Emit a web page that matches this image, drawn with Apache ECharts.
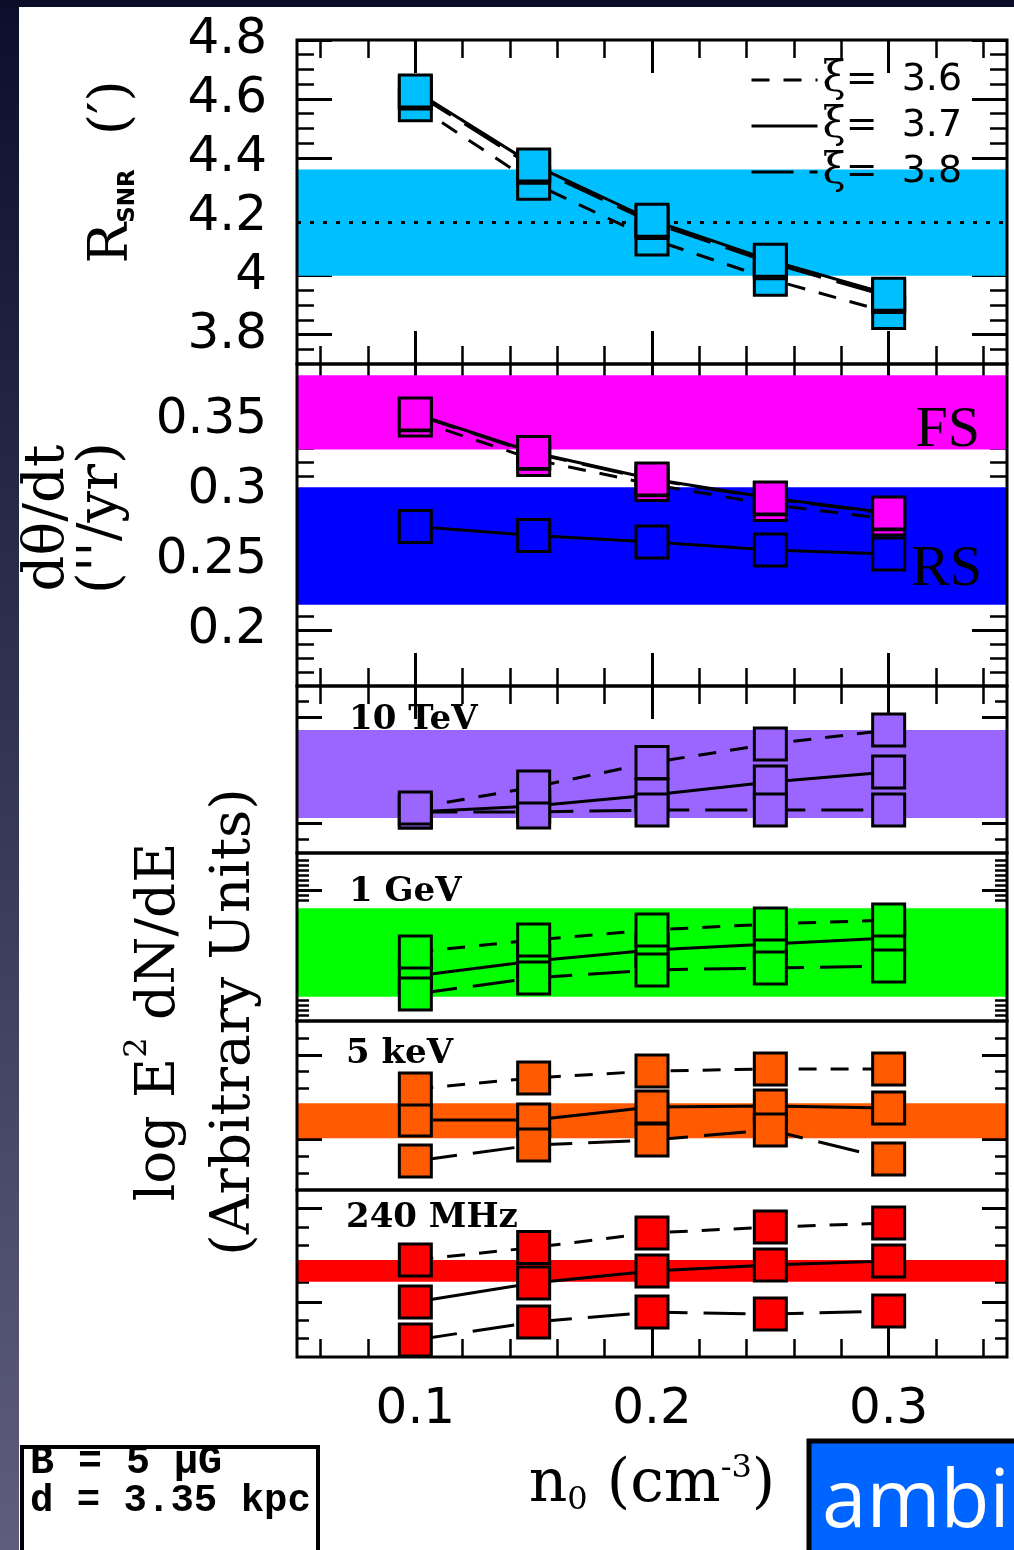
<!DOCTYPE html>
<html><head><meta charset="utf-8">
<script src="https://cdn.jsdelivr.net/npm/echarts@6/dist/echarts.min.js"></script>
<style>html,body{margin:0;padding:0;background:#fff;}#c{width:1014px;height:1550px;}</style>
</head><body><div id="c"></div>
<script>
// ================= DATA =================
const nH = [0.1, 0.15, 0.2, 0.25, 0.3];
const xiValues = ['3.6', '3.7', '3.8'];

// R_SNR (arcmin)
const rsnrXi36 = [4.58, 4.314, 4.124, 3.988, 3.875];
const rsnrXi37 = [4.627, 4.376, 4.188, 4.052, 3.937];
const rsnrXi38 = [4.62, 4.368, 4.18, 4.044, 3.929];
const rsnrBand = [4.0, 4.36];
const rsnrObs = 4.18;

// dtheta/dt (arcsec/yr)
const fsXi36 = [0.350, 0.3218, 0.304, 0.2896, 0.2793];
const fsXi37 = [0.3543, 0.3268, 0.3079, 0.2943, 0.2836];
const fsXi38 = [0.3538, 0.3262, 0.3074, 0.2938, 0.2831];
const rsAll = [0.2739, 0.2675, 0.2629, 0.2571, 0.2543];
const fsBand = [0.329, 0.382];
const rsBand = [0.218, 0.302];

// log E^2 dN/dE (arbitrary units, 0..100 in each panel)
const tevXi36 = [27.0, 39.5, 54.2, 65.3, 73.6];
const tevXi37 = [24.6, 28.1, 34.7, 42.5, 48.5];
const tevXi38 = [24.5, 24.6, 25.7, 25.7, 25.7];
const tevBand = [21.0, 73.7];

const gevXi36 = [41.1, 48.2, 54.2, 57.7, 60.1];
const gevXi37 = [26.8, 35.7, 42.3, 45.8, 49.4];
const gevXi38 = [16.1, 25.6, 30.4, 31.5, 32.7];
const gevBand = [14.5, 67.1];

const kevXi36 = [59.8, 66.3, 70.4, 71.6, 71.6];
const kevXi37 = [41.4, 41.4, 49.1, 49.7, 48.5];
const kevXi38 = [17.2, 26.6, 29.6, 35.5, 18.3];
const kevBand = [30.6, 51.3];

const mhzXi36 = [58.1, 65.6, 74.3, 77.8, 80.2];
const mhzXi37 = [32.9, 44.3, 51.5, 55.1, 57.5];
const mhzXi38 = [10.2, 21.0, 26.9, 25.7, 27.5];
const mhzBand = [45.1, 58.1];

// ticks
const xTickValues = [0.1, 0.2, 0.3];
const xTickLabels = ['0.1', '0.2', '0.3'];
const xMinorTicks = [0.06, 0.08, 0.12, 0.14, 0.16, 0.18, 0.22, 0.24, 0.26, 0.28, 0.32, 0.34];
const rsnrTickValues = [3.8, 4.0, 4.2, 4.4, 4.6, 4.8];
const rsnrTickLabels = ['3.8', '4', '4.2', '4.4', '4.6', '4.8'];
const rsnrMinorTicks = [3.75, 3.85, 3.9, 3.95, 4.05, 4.1, 4.15, 4.25, 4.3, 4.35, 4.45, 4.5, 4.55, 4.65, 4.7, 4.75];
const rateTickValues = [0.2, 0.25, 0.3, 0.35];
const rateTickLabels = ['0.2', '0.25', '0.3', '0.35'];
const rateMinorTicks = [0.17, 0.18, 0.19, 0.21, 0.22, 0.23, 0.24, 0.26, 0.27, 0.28, 0.29, 0.31, 0.32, 0.33, 0.34, 0.36, 0.37, 0.38];
const tevMajorTicks = [18, 81.4];
const tevMinorTicks = [8.4, 27, 36, 45, 54, 63, 72, 90.6];
const gevMajorTicks = [78];
const gevMinorTicks = [3.6, 6.5, 9.5, 12.5, 72, 75, 81, 83.9, 86.9, 89.9, 92.9, 95.8];
const kevMajorTicks = [30, 80];
const kevMinorTicks = [10, 20, 40, 50, 60, 70, 90];
const mhzMajorTicks = [32.9, 89.2];
const mhzMinorTicks = [11.4, 22.2, 44.9, 55.9, 67, 77.8];

// ================= LAYOUT / STYLE =================
const XMIN = 0.05, XMAX = 0.35;
const PLOT_LEFT = 297, PLOT_WIDTH = 710;
const C = {cyan:'#00bfff', magenta:'#ff00ff', blue:'#0000ff', purple:'#9a66ff', green:'#00ff00', orange:'#ff5a00', red:'#ff0000'};
const LINE_STYLE = {'3.6': [18, 14], '3.7': 'solid', '3.8': [42, 16]};

const panels = [
  {top:40, height:324, min:3.7, max:4.8, xTop:true, xBottom:true, major:rsnrTickValues, minor:rsnrMinorTicks, labels:rsnrTickLabels, majorLen:35, minorLen:17},
  {top:364, height:322, min:0.16, max:0.39, xTop:true, xBottom:true, major:rateTickValues, minor:rateMinorTicks, labels:rateTickLabels, majorLen:35, minorLen:17},
  {top:686, height:167, min:0, max:100, xTop:true, xBottom:false, major:tevMajorTicks, minor:tevMinorTicks, majorLen:25, minorLen:12},
  {top:853, height:168, min:0, max:100, xTop:false, xBottom:false, major:gevMajorTicks, minor:gevMinorTicks, majorLen:25, minorLen:12},
  {top:1021, height:169, min:0, max:100, xTop:false, xBottom:false, major:kevMajorTicks, minor:kevMinorTicks, majorLen:25, minorLen:12},
  {top:1190, height:167, min:0, max:100, xTop:false, xBottom:true, xLabels:true, major:mhzMajorTicks, minor:mhzMinorTicks, majorLen:25, minorLen:12}
];

const grids = [], xAxes = [], yAxes = [], series = [], mainX = [], mainY = [];

function addX(gi, pos, vals, len, w, extra) {
  xAxes.push(Object.assign({
    type:'value', gridIndex:gi, position:pos, min:XMIN, max:XMAX,
    axisLine:{show:false, onZero:false}, splitLine:{show:false},
    axisTick: vals ? {show:true, inside:true, length:len, customValues:vals, lineStyle:{color:'#000', width:w}} : {show:false},
    axisLabel:{show:false}
  }, extra || {}));
  return xAxes.length - 1;
}
function addY(gi, pos, p, vals, len, w, extra) {
  yAxes.push(Object.assign({
    type:'value', gridIndex:gi, position:pos, min:p.min, max:p.max,
    axisLine:{show:false, onZero:false}, splitLine:{show:false},
    axisTick:{show:true, inside:true, length:len, customValues:vals, lineStyle:{color:'#000', width:w}},
    axisLabel:{show:false}
  }, extra || {}));
  return yAxes.length - 1;
}
function pickLabel(values, labels) {
  return v => { const i = values.findIndex(t => Math.abs(t - v) < 1e-9); return i >= 0 ? labels[i] : ''; };
}

panels.forEach((p, gi) => {
  grids.push({left:PLOT_LEFT, top:p.top, width:PLOT_WIDTH, height:p.height, show:true,
    borderColor:'#000', borderWidth:3, backgroundColor:'transparent', z:20});
  let xExtra = {};
  if (p.xLabels) {
    xExtra = {
      axisLabel:{show:true, customValues:xTickValues, formatter:pickLabel(xTickValues, xTickLabels),
        fontFamily:'DejaVu Sans', fontSize:50, color:'#000', margin:28},
      name:'{n|n}{sub|0}{n| (cm}{sup|-3}{n|)}', nameLocation:'middle', nameGap:96,
      nameTextStyle:{color:'#000', fontFamily:'DejaVu Serif', fontSize:60, rich:{
        n:{fontFamily:'DejaVu Serif', fontSize:60, lineHeight:64, color:'#000'},
        sub:{fontFamily:'DejaVu Serif', fontSize:32, lineHeight:30, verticalAlign:'bottom', color:'#000'},
        sup:{fontFamily:'DejaVu Serif', fontSize:32, lineHeight:30, verticalAlign:'top', color:'#000'}}}
    };
  }
  mainX[gi] = addX(gi, 'bottom', p.xBottom ? xTickValues : null, 33, 3, xExtra);
  if (p.xBottom) addX(gi, 'bottom', xMinorTicks, 18, 2.5);
  if (p.xTop) { addX(gi, 'top', xTickValues, 33, 3); addX(gi, 'top', xMinorTicks, 18, 2.5); }
  const yExtra = p.labels ? {axisLabel:{show:true, customValues:p.major, formatter:pickLabel(p.major, p.labels),
    fontFamily:'DejaVu Sans', fontSize:50, color:'#000', margin:30}} : {};
  mainY[gi] = addY(gi, 'left', p, p.major, p.majorLen, 3, yExtra);
  addY(gi, 'left', p, p.minor, p.minorLen, 2.5);
  addY(gi, 'right', p, p.major, p.majorLen, 3);
  addY(gi, 'right', p, p.minor, p.minorLen, 2.5);
});

function pts(vals) { return nH.map((x, i) => [x, vals[i]]); }

function addBand(gi, ranges, colors, obs) {
  const s = {type:'line', name:'band' + gi, xAxisIndex:mainX[gi], yAxisIndex:mainY[gi], data:[], z:1, silent:true,
    markArea:{silent:true, z:1, data:ranges.map((r, i) => [{yAxis:r[0], itemStyle:{color:colors[i], opacity:1}}, {yAxis:r[1]}])}};
  if (obs != null) {
    s.markLine = {silent:true, z:4, symbol:'none', label:{show:false},
      lineStyle:{color:'#000', width:3, type:[4, 9]}, data:[{yAxis:obs}]};
  }
  series.push(s);
}
function addLine(gi, name, vals, type) {
  series.push({type:'line', name:name, xAxisIndex:mainX[gi], yAxisIndex:mainY[gi], data:pts(vals),
    symbol:'none', showSymbol:false, silent:true, z:5,
    lineStyle:{color:'#000', width:3, type:type}, itemStyle:{color:'#000'}});
}
function addSquares(gi, vals, fill, z) {
  series.push({type:'scatter', name:'sq' + gi + '_' + z, xAxisIndex:mainX[gi], yAxisIndex:mainY[gi], data:pts(vals),
    symbol:'rect', symbolSize:32, silent:true, z:z,
    itemStyle:{color:fill, borderColor:'#000', borderWidth:3, opacity:1}, emphasis:{disabled:true}});
}
// trio: vals in order [3.6, 3.7, 3.8]; zOrder: z for each
function addTrio(gi, trio, fill, zOrder) {
  trio.forEach((vals, k) => addLine(gi, 'ξ = ' + xiValues[k], vals, LINE_STYLE[xiValues[k]]));
  trio.forEach((vals, k) => addSquares(gi, vals, fill, zOrder[k]));
}

addBand(0, [rsnrBand], [C.cyan], rsnrObs);
addTrio(0, [rsnrXi36, rsnrXi37, rsnrXi38], C.cyan, [10, 12, 11]);

addBand(1, [fsBand, rsBand], [C.magenta, C.blue]);
addLine(1, 'RS', rsAll, 'solid');
addSquares(1, rsAll, C.blue, 9);
addTrio(1, [fsXi36, fsXi37, fsXi38], C.magenta, [10, 12, 11]);

const lowOrder = [12, 10, 11];
addBand(2, [tevBand], [C.purple]);
addTrio(2, [tevXi36, tevXi37, tevXi38], C.purple, lowOrder);
addBand(3, [gevBand], [C.green]);
addTrio(3, [gevXi36, gevXi37, gevXi38], C.green, lowOrder);
addBand(4, [kevBand], [C.orange]);
addTrio(4, [kevXi36, kevXi37, kevXi38], C.orange, lowOrder);
addBand(5, [mhzBand], [C.red]);
addTrio(5, [mhzXi36, mhzXi37, mhzXi38], C.red, lowOrder);

function txt(x, y, text, st, rot) {
  const style = Object.assign({text:text, fill:'#000', align:'left', verticalAlign:'middle'}, st);
  style.textAlign = style.align; style.textVerticalAlign = style.verticalAlign;
  const el = {type:'text', x:x, y:y, z:30, silent:true, style:style};
  if (rot) el.rotation = rot;
  return el;
}
const serifBold = {fontFamily:'DejaVu Serif', fontWeight:'bold', fontSize:34};
const graphicEls = [
  {type:'rect', z:30, silent:true, shape:{x:0, y:0, width:19, height:1550},
    style:{fill:new echarts.graphic.LinearGradient(0, 0, 0, 1, [{offset:0, color:'#0b0f2c'}, {offset:1, color:'#5e5d7e'}])}},
  {type:'rect', z:30, silent:true, shape:{x:0, y:0, width:1014, height:7}, style:{fill:'#0a0d26'}},
  txt(980, 431, 'FS', {fontFamily:'Liberation Serif', fontSize:58, align:'right'}),
  txt(982, 570, 'RS', {fontFamily:'Liberation Serif', fontSize:58, align:'right'}),
  txt(349, 720, '10 TeV', serifBold),
  txt(349, 892, '1 GeV', serifBold),
  txt(346, 1054, '5 keV', serifBold),
  txt(346, 1218, '240 MHz', serifBold),
  txt(113, 172, '{r|R}{s|SNR}{r|  (\u2032)}', {align:'center', rich:{
      r:{fontFamily:'DejaVu Serif', fontSize:54, lineHeight:54},
      s:{fontFamily:'DejaVu Sans', fontWeight:'bold', fontSize:23, lineHeight:23, verticalAlign:'bottom'}}}, Math.PI / 2),
  txt(75, 518, '{a|d\u03b8/dt}\n{a|(\'\'/yr)}', {align:'center', rich:{
      a:{fontFamily:'DejaVu Serif', fontSize:56, lineHeight:54}}}, Math.PI / 2),
  txt(197, 1022, '{a|log E}{sup|2}{a| dN/dE}\n{a|(Arbitrary Units)}', {align:'center', rich:{
      a:{fontFamily:'DejaVu Serif', fontSize:55, lineHeight:75},
      sup:{fontFamily:'DejaVu Serif', fontSize:32, lineHeight:34, verticalAlign:'top'}}}, Math.PI / 2),
  {type:'rect', z:30, silent:true, shape:{x:22, y:1447, width:296, height:115}, style:{fill:'#fff', stroke:'#000', lineWidth:4}},
  txt(30, 1463, 'B = 5 \u03bcG', {fontFamily:'Liberation Mono', fontWeight:'bold', fontSize:40}),
  txt(30, 1501, 'd = 3.35 kpc', {fontFamily:'Liberation Mono', fontWeight:'bold', fontSize:39}),
  {type:'rect', z:30, silent:true, shape:{x:809, y:1441, width:220, height:120}, style:{fill:'#0064ff', stroke:'#000', lineWidth:5}},
  txt(822, 1504, 'ambient', {fontFamily:'Open Sans', fontSize:80, fill:'#fff'})
];

const option = {
  animation:false,
  backgroundColor:'#fff',
  grid:grids, xAxis:xAxes, yAxis:yAxes, series:series,
  legend:{
    orient:'vertical', left:745, top:54, itemWidth:66, itemHeight:14, itemGap:4, selectedMode:false, z:25,
    data:xiValues.map(v => 'ξ = ' + v),
    itemStyle:{opacity:0}, lineStyle:{width:3},
    formatter:name => '{x|ξ}{t|=  ' + name.split('= ')[1] + '}',
    textStyle:{color:'#000', fontFamily:'DejaVu Sans', fontSize:38, lineHeight:25, rich:{
      x:{fontFamily:'DejaVu Serif', fontSize:42, lineHeight:25, color:'#000'},
      t:{fontFamily:'DejaVu Sans', fontSize:38, lineHeight:25, color:'#000'}}}
  },
  graphic:{elements:graphicEls}
};
const chart = echarts.init(document.getElementById('c'), null, {renderer:'canvas'});
chart.setOption(option);
</script></body></html>
